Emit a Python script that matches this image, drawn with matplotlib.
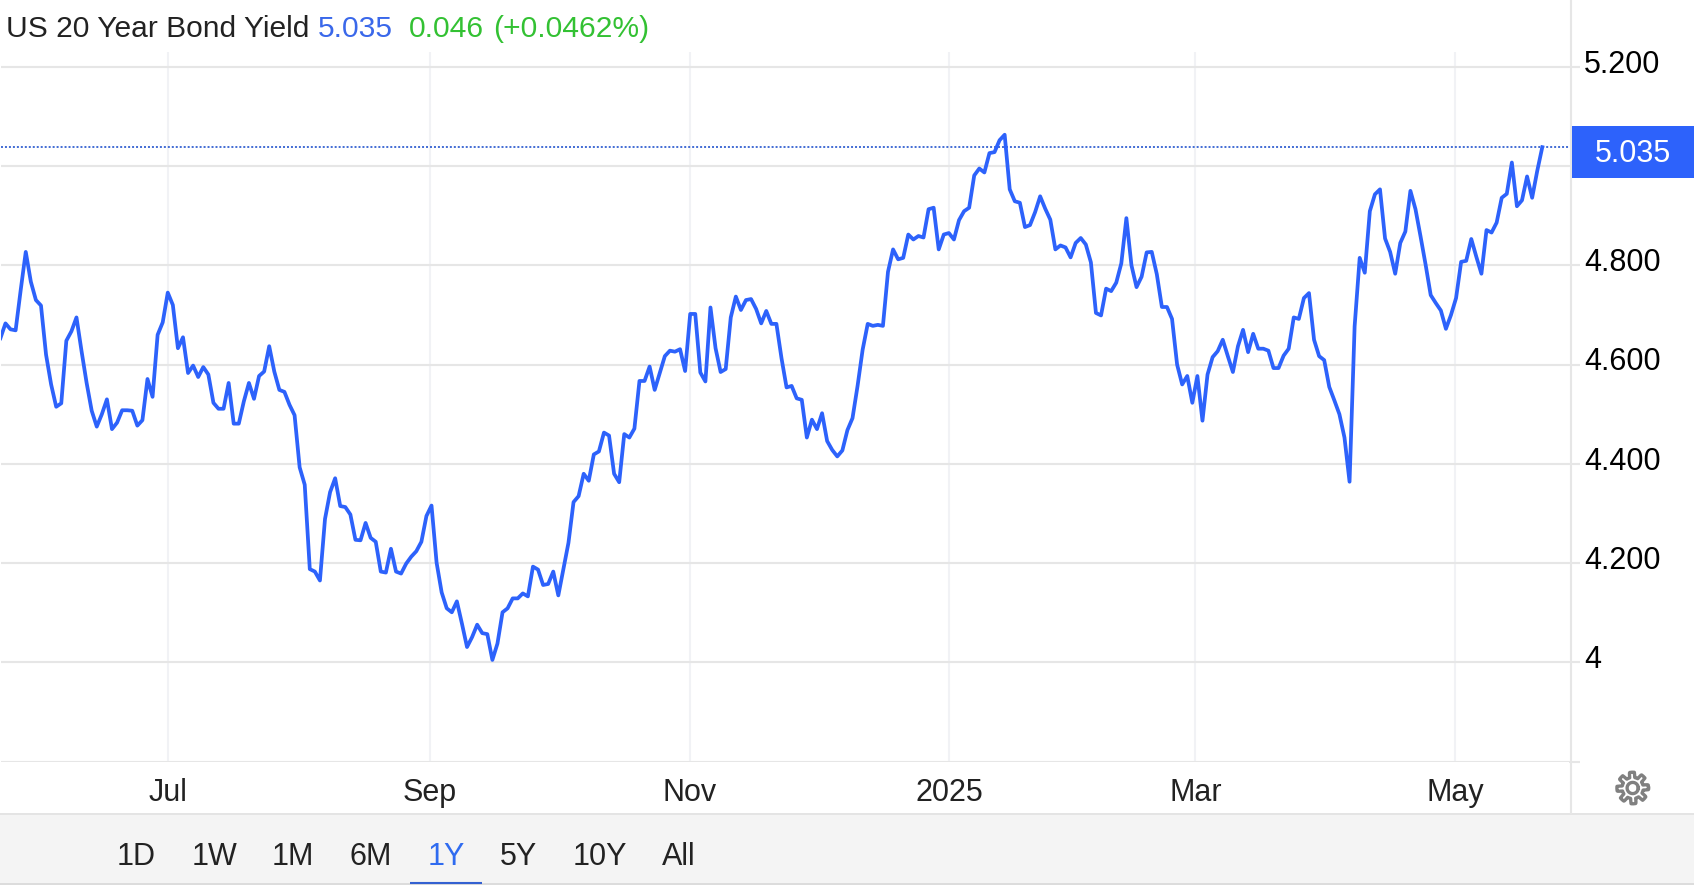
import matplotlib
matplotlib.use("Agg")
import matplotlib.pyplot as plt
import numpy as np
from matplotlib.patches import Rectangle

W, H = 1694, 888
plt.rcParams['font.family'] = ['Liberation Sans', 'DejaVu Sans']

# daily yield
yields = [
    4.653, 4.683, 4.671, 4.669, 4.750, 4.827, 4.767, 4.730, 4.719, 4.620,
    4.560, 4.515, 4.522, 4.648, 4.667, 4.695, 4.627, 4.563, 4.507, 4.475,
    4.500, 4.530, 4.470, 4.483, 4.508, 4.508, 4.507, 4.477, 4.488, 4.571,
    4.535, 4.660, 4.685, 4.745, 4.720, 4.633, 4.655, 4.583, 4.598, 4.575,
    4.595, 4.580, 4.523, 4.511, 4.511, 4.563, 4.481, 4.481, 4.526, 4.563,
    4.531, 4.577, 4.586, 4.637, 4.586, 4.549, 4.545, 4.519, 4.498, 4.393,
    4.358, 4.188, 4.183, 4.165, 4.289, 4.343, 4.371, 4.315, 4.313, 4.298,
    4.247, 4.246, 4.281, 4.251, 4.243, 4.183, 4.181, 4.229, 4.183, 4.179,
    4.199, 4.213, 4.224, 4.243, 4.295, 4.316, 4.201, 4.141, 4.109, 4.101,
    4.123, 4.078, 4.031, 4.051, 4.076, 4.059, 4.057, 4.005, 4.038, 4.101,
    4.109, 4.129, 4.129, 4.139, 4.133, 4.193, 4.187, 4.156, 4.158, 4.183,
    4.135, 4.188, 4.241, 4.323, 4.335, 4.380, 4.366, 4.419, 4.425, 4.463,
    4.457, 4.380, 4.363, 4.460, 4.453, 4.471, 4.567, 4.567, 4.596, 4.549,
    4.583, 4.617, 4.628, 4.626, 4.631, 4.587, 4.702, 4.702, 4.584, 4.566,
    4.715, 4.633, 4.585, 4.591, 4.695, 4.737, 4.710, 4.730, 4.732, 4.712,
    4.683, 4.708, 4.682, 4.682, 4.613, 4.554, 4.557, 4.532, 4.529, 4.453,
    4.489, 4.470, 4.502, 4.446, 4.428, 4.415, 4.427, 4.468, 4.492, 4.557,
    4.630, 4.682, 4.678, 4.680, 4.678, 4.787, 4.832, 4.812, 4.815, 4.862,
    4.852, 4.859, 4.856, 4.913, 4.916, 4.832, 4.862, 4.865, 4.852, 4.891,
    4.909, 4.916, 4.981, 4.995, 4.987, 5.026, 5.028, 5.052, 5.063, 4.953,
    4.929, 4.926, 4.877, 4.881, 4.907, 4.939, 4.914, 4.892, 4.832, 4.840,
    4.836, 4.816, 4.845, 4.855, 4.842, 4.806, 4.704, 4.699, 4.753, 4.748,
    4.765, 4.804, 4.895, 4.800, 4.756, 4.777, 4.826, 4.827, 4.782, 4.716,
    4.716, 4.692, 4.600, 4.560, 4.577, 4.523, 4.577, 4.487, 4.580, 4.615,
    4.627, 4.650, 4.617, 4.585, 4.637, 4.670, 4.625, 4.662, 4.632, 4.632,
    4.628, 4.593, 4.593, 4.618, 4.632, 4.695, 4.692, 4.734, 4.744, 4.650,
    4.617, 4.609, 4.555, 4.528, 4.500, 4.453, 4.364, 4.677, 4.815, 4.785,
    4.909, 4.943, 4.953, 4.854, 4.827, 4.783, 4.845, 4.868, 4.950, 4.913,
    4.858, 4.801, 4.740, 4.724, 4.709, 4.672, 4.700, 4.734, 4.807, 4.809,
    4.853, 4.817, 4.783, 4.871, 4.866, 4.886, 4.936, 4.944, 5.007, 4.919,
    4.931, 4.979, 4.936, 4.990, 5.038,
]
last_line = 5.038

month_labels = ['Jul', 'Sep', 'Nov', '2025', 'Mar', 'May']
month_pos = [33.05, 84.7, 135.96, 187.03, 235.6, 286.8]

y_ticks = [3.8, 4.0, 4.2, 4.4, 4.6, 4.8, 5.0, 5.2]
y_labels = ['', '4', '4.200', '4.400', '4.600', '4.800', '', '5.200']

ranges = ['1D', '1W', '1M', '6M', '1Y', '5Y', '10Y', 'All']
range_x = [136, 214, 293, 370.5, 446, 518, 600, 678.6]

BLUE = '#2d62fb'
GRID_H = '#e6e6e6'
GRID_V = '#f1f2f5'
INK = '#222222'
GREEN = '#33c133'

fig = plt.figure(figsize=(W / 100, H / 100), dpi=100, facecolor='white')

# page layer in pixels, for the frame, range bar and gear
bg = fig.add_axes([0, 0, 1, 1], zorder=0)
bg.set_xlim(0, W)
bg.set_ylim(H, 0)
bg.axis('off')
bg.add_patch(Rectangle((0, 814), W, 70, fc='#f4f4f4', ec='none'))
bg.plot([0, W], [813.5, 813.5], color='#e4e4e4', lw=1.4)
bg.plot([0, W], [884, 884], color='#dcdcdc', lw=1.4)
bg.plot([1571, 1571], [0, 813], color=GRID_H, lw=1.5)
bg.plot([410, 482], [883, 883], color='#3461d1', lw=1.5, solid_capstyle='butt')

for lab, xp in zip(ranges, range_x):
    bg.text(xp, 857, lab, ha='center', va='center', fontsize=22,
            color='#2f6bf0' if lab == '1Y' else INK)

# gear icon
ang = np.linspace(0, 2 * np.pi, 241)
rad = 13.2 + 2.6 * np.clip(3 * np.cos(8 * ang + np.pi / 8), -1, 1)
bg.plot(1632.7 + rad * np.cos(ang), 788 + rad * np.sin(ang), color='#808080', lw=2.4)
bg.plot(1632.7 + 5.6 * np.cos(ang), 788 + 5.6 * np.sin(ang), color='#808080', lw=2.4)

# chart axes, x in trading-day index
left, right, top, bottom = 1, 1569, 52, 761.7
ax = fig.add_axes([left / W, 1 - bottom / H, (right - left) / W, (bottom - top) / H], zorder=1)
ax.patch.set_alpha(0)
ax.set_xlim((left - 0.4) / 5.072, (right - 0.4) / 5.072)
ax.set_ylim(3.8, 3.8 + (bottom - top) / 496.4)
for s in ax.spines.values():
    s.set_visible(False)

ax.set_yticks(y_ticks)
ax.set_yticklabels([])
ax.yaxis.tick_right()
ax.tick_params(axis='y', length=8, width=1.5, color=GRID_H, pad=0)
ax.set_xticks(month_pos)
ax.set_xticklabels(month_labels, fontsize=22, color=INK)
ax.tick_params(axis='x', length=0, pad=11.5)
ax.grid(axis='y', color=GRID_H, lw=1.5)
ax.grid(axis='x', color=GRID_V, lw=1.5)
ax.set_axisbelow(True)

ax.plot(range(len(yields)), yields, color=BLUE, lw=2.7, solid_joinstyle='round', zorder=3)
ax.axhline(last_line, color='#3461d1', lw=1.3, ls=(0, (1.1, 1.1)), zorder=2)

for v, lab in zip(y_ticks, y_labels):
    if lab:
        ax.annotate(lab, xy=(1, v), xycoords=('axes fraction', 'data'),
                    xytext=(11, 1.5), textcoords='offset points',
                    ha='left', va='center', fontsize=22, color='black')

# last price tag
over = fig.add_axes([0, 0, 1, 1], zorder=2)
over.set_xlim(0, W)
over.set_ylim(H, 0)
over.axis('off')
over.add_patch(Rectangle((1572, 126), W - 1572, 52, fc=BLUE, ec='none'))
over.text(1633, 154, '5.035', ha='center', va='center', fontsize=22, color='white')

# header
over.text(6, 29, 'US 20 Year Bond Yield', ha='left', va='center', fontsize=21.6, color=INK)
over.text(318, 29, '5.035', ha='left', va='center', fontsize=21.6, color='#3a68ea')
over.text(409, 29, '0.046', ha='left', va='center', fontsize=21.6, color=GREEN)
over.text(493, 29, '(+0.0462%)', ha='left', va='center', fontsize=21.6, color=GREEN)

fig.savefig('out.png', dpi=100)
